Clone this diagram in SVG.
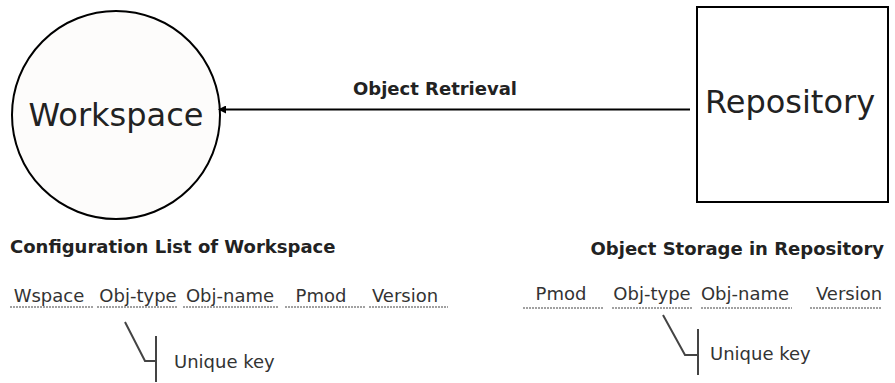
<svg xmlns="http://www.w3.org/2000/svg" width="895" height="383" viewBox="0 0 895 383">
<style>
text{font-family:"DejaVu Sans","Verdana",sans-serif;fill:#222}
.big{font-size:32px}
.bold{font-size:18px;font-weight:bold}
.lab{font-size:18px;fill:#333}
.ul{stroke:#444;stroke-width:1.2;stroke-dasharray:2 1;fill:none}
.br{stroke:#444;stroke-width:2;fill:none}
</style>
<defs>
<marker id="ah" markerWidth="8" markerHeight="8" refX="7" refY="4" orient="auto" markerUnits="userSpaceOnUse">
<path d="M0,0 L8,4 L0,8 Z" fill="#000"/>
</marker>
</defs>
<rect width="895" height="383" fill="#fff"/>
<g id="workspace">
<circle cx="116" cy="115" r="104" fill="#fdfcfb" stroke="#000" stroke-width="2"/>
<text class="big" x="116" y="126" text-anchor="middle">Workspace</text>
</g>
<g id="repository">
<rect x="697" y="7" width="191" height="195" fill="#fff" stroke="#000" stroke-width="2"/>
<text class="big" x="790" y="113" text-anchor="middle">Repository</text>
</g>
<g id="connectors">
<line x1="690" y1="109.5" x2="219" y2="109.5" stroke="#000" stroke-width="2" marker-end="url(#ah)"/>
<text class="bold" x="435" y="95" text-anchor="middle">Object Retrieval</text>
</g>
<g id="config-list">
<text class="bold" x="10" y="253">Configuration List of Workspace</text>
<text class="lab" x="49" y="302" text-anchor="middle">Wspace</text>
<line class="ul" x1="10" y1="307" x2="93" y2="307"/>
<text class="lab" x="138" y="302" text-anchor="middle">Obj-type</text>
<line class="ul" x1="97" y1="307" x2="178" y2="307"/>
<text class="lab" x="230" y="302" text-anchor="middle">Obj-name</text>
<line class="ul" x1="183" y1="307" x2="279" y2="307"/>
<text class="lab" x="321" y="302" text-anchor="middle">Pmod</text>
<line class="ul" x1="285" y1="307" x2="365" y2="307"/>
<text class="lab" x="405" y="302" text-anchor="middle">Version</text>
<line class="ul" x1="369" y1="307" x2="448" y2="307"/>
<path class="br" d="M125,322 L145,361 L156,361 M156,336 L156,382"/>
<text class="lab" x="174" y="368">Unique key</text>
</g>
<g id="object-storage">
<text class="bold" x="884" y="255" text-anchor="end">Object Storage in Repository</text>
<text class="lab" x="561" y="300" text-anchor="middle">Pmod</text>
<line class="ul" x1="523" y1="308" x2="603" y2="308"/>
<text class="lab" x="652" y="300" text-anchor="middle">Obj-type</text>
<line class="ul" x1="612" y1="308" x2="693" y2="308"/>
<text class="lab" x="745" y="300" text-anchor="middle">Obj-name</text>
<line class="ul" x1="701" y1="308" x2="792" y2="308"/>
<text class="lab" x="849" y="300" text-anchor="middle">Version</text>
<line class="ul" x1="810" y1="308" x2="882" y2="308"/>
<path class="br" d="M663,315 L685,355 L698,355 M698,329 L698,375"/>
<text class="lab" x="710" y="360">Unique key</text>
</g>
</svg>
